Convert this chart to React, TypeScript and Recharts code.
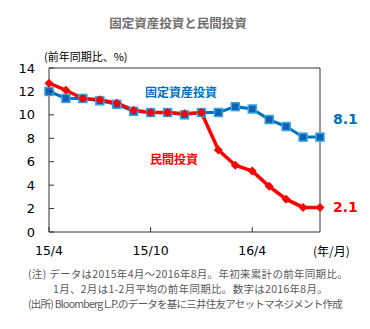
import { LineChart, Line, XAxis, YAxis, ReferenceLine, LabelList } from 'recharts';

const months = ['15/4', '15/5', '15/6', '15/7', '15/8', '15/9', '15/10', '15/11', '15/12', '16/1', '16/2', '16/3', '16/4', '16/5', '16/6', '16/7', '16/8'];
const fixedAsset = [12.0, 11.4, 11.4, 11.2, 10.9, 10.3, 10.2, 10.2, 10.0, 10.2, 10.2, 10.7, 10.5, 9.6, 9.0, 8.1, 8.1];
const privateInv = [12.7, 12.1, 11.4, 11.3, 11.0, 10.4, 10.2, 10.2, 10.1, 10.2, 7.0, 5.7, 5.2, 3.9, 2.8, 2.1, 2.1];
const xLabels = ['15/4', '15/10', '16/4'];
const yTicks = [0, 2, 4, 6, 8, 10, 12, 14];

const data = months.map((m, i) => ({ m, fixed: fixedAsset[i], priv: privateInv[i] }));

const BLUE = '#0070C0';
const RED = '#FF0000';
const FONT = '"Noto Sans CJK JP", "Noto Sans", sans-serif';

const YTick = (props: any) => {
    const { x, y, payload } = props;
    return (
        <g>
            <line x1={x} x2={x + 5} y1={y} y2={y} stroke="#333" />
            <text x={x - 14} y={y} dy={4.5} textAnchor="end" fontSize={13} fill="#000" fontFamily="Verdana, DejaVu Sans, sans-serif">
                {payload.value}
            </text>
        </g>
    );
};

const XTick = (props: any) => {
    const { x, y, payload } = props;
    if (!xLabels.includes(payload.value)) return null;
    return (
        <g>
            <line x1={x} x2={x} y1={y} y2={y - 5} stroke="#333" />
            <text x={x} y={y} dy={23} textAnchor="middle" fontSize={12.5} fill="#000" fontFamily="Verdana, DejaVu Sans, sans-serif">
                {payload.value}
            </text>
        </g>
    );
};

const SquareDot = (props: any) => {
    const { cx, cy } = props;
    return <rect x={cx - 4} y={cy - 4} width={8} height={8} fill="#1560B0" stroke="#35A8E0" strokeWidth={1.5} />;
};

const DiamondDot = (props: any) => {
    const { cx, cy } = props;
    return <path d={`M${cx},${cy - 4.5}L${cx + 4.5},${cy}L${cx},${cy + 4.5}L${cx - 4.5},${cy}Z`} fill={RED} />;
};

const endLabel = (color: string, dy: number) => (props: any) => {
    const { x, y, value, index } = props;
    if (index !== months.length - 1) return null;
    return (
        <text x={x + 13} y={y + dy} dy={5} fontSize={14} fontWeight="bold" fill={color} fontFamily="Verdana, DejaVu Sans, sans-serif">
            {value.toFixed(1)}
        </text>
    );
};

export default function App() {
    return (
        <div style={{ position: 'fixed', left: 0, top: 0, width: 370, height: 329, background: '#fff', fontFamily: FONT }}>
            <div style={{ position: 'absolute', top: 13, left: 0, width: 356, textAlign: 'center', fontSize: 12.5, fontWeight: 'bold', color: '#707070' }}>
                固定資産投資と民間投資
            </div>
            <div style={{ position: 'absolute', top: 48, left: 44, fontSize: 11, color: '#000' }}>(前年同期比、%)</div>
            <div style={{ position: 'absolute', top: 242, left: 313, fontSize: 12, color: '#000' }}>(年/月)</div>
            <div style={{ position: 'absolute', top: 83, left: 145, fontSize: 12, fontWeight: 'bold', color: BLUE }}>固定資産投資</div>
            <div style={{ position: 'absolute', top: 150, left: 150, fontSize: 12, fontWeight: 'bold', color: RED }}>民間投資</div>
            <LineChart width={370} height={329} data={data} margin={{ top: 68, right: 50, bottom: 67, left: 0 }}>
                <XAxis dataKey="m" interval={0} tickSize={0} tickMargin={0} tick={<XTick />} stroke="#333" height={30} />
                <YAxis domain={[0, 14]} ticks={yTicks} interval={0} tickSize={0} tickMargin={0} tick={<YTick />} stroke="#333" width={49} />
                <ReferenceLine y={14} stroke="#333" />
                <ReferenceLine x="16/8" stroke="#333" />
                <Line dataKey="fixed" stroke={BLUE} strokeWidth={3} dot={<SquareDot />} isAnimationActive={false}>
                    <LabelList dataKey="fixed" content={endLabel(BLUE, -18)} />
                </Line>
                <Line dataKey="priv" stroke={RED} strokeWidth={3.5} dot={<DiamondDot />} isAnimationActive={false}>
                    <LabelList dataKey="priv" content={endLabel(RED, 0)} />
                </Line>
            </LineChart>
            <div style={{ position: 'absolute', top: 266, left: 28, fontSize: 10.5, color: '#595959', lineHeight: '15px', whiteSpace: 'nowrap' }}>
                <div style={{ letterSpacing: 0.3 }}>(注) データは2015年4月～2016年8月。年初来累計の前年同期比。</div>
                <div style={{ paddingLeft: 25, letterSpacing: 0.3 }}>1月、2月は1-2月平均の前年同期比。数字は2016年8月。</div>
                <div style={{ letterSpacing: -0.75 }}>(出所) Bloomberg L.P.のデータを基に三井住友アセットマネジメント作成</div>
            </div>
        </div>
    );
}
